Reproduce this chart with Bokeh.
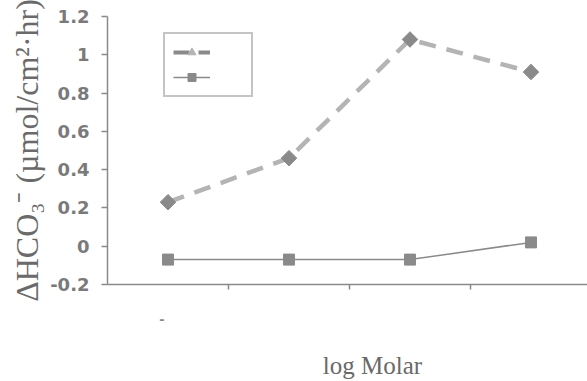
import math
from bokeh.plotting import figure
from bokeh.models import (Range1d, FixedTicker, LinearAxis, Legend, LegendItem,
                          ColumnDataSource)
from bokeh.embed import file_html
from bokeh.resources import INLINE

# ---- data ----
categories = ["-", "", "", ""]
series_a = [0.23, 0.46, 1.08, 0.91]      # dashed, diamonds
series_b = [-0.07, -0.07, -0.07, 0.02]   # solid, squares
y_ticks = [-0.2, 0, 0.2, 0.4, 0.6, 0.8, 1.0, 1.2]
y_tick_labels = ["-0.2", "0", "0.2", "0.4", "0.6", "0.8", "1", "1.2"]
x_label = "log Molar"
y_label = "ΔHCO₃⁻ (µmol/cm²·hr)"

# category centres on a numeric axis (boundaries at integers)
x_pos = [i + 0.5 for i in range(len(categories))]
x_bounds = [1, 2, 3]
cat_ticks = [x - 0.05 for x in x_pos[:1]]
x_label_at = 2.19   # horizontal anchor of the x title (axis units)

GRAY = "#8a8a8a"
LIGHT = "#b4b4b4"
TXT = "#6a6a6a"

p = figure(width=587, height=381, output_backend="svg", toolbar_location=None,
           x_range=Range1d(0, 3.967), y_range=Range1d(-0.2, 1.2),
           min_border_left=107, min_border_right=0, min_border_top=16,
           min_border_bottom=97)
p.outline_line_color = None
p.grid.visible = False
p.background_fill_color = "white"
p.border_fill_color = "white"

# axes
p.xaxis.ticker = FixedTicker(ticks=x_bounds)
p.xaxis.major_label_overrides = {b: "" for b in x_bounds}
p.xaxis.major_label_text_font_size = "0px"
p.xaxis.major_label_standoff = 0
p.xaxis.major_tick_in = 0
p.xaxis.major_tick_out = 5
p.xaxis.minor_tick_line_color = None
p.yaxis.ticker = FixedTicker(ticks=y_ticks)
p.yaxis.major_label_overrides = {t: l for t, l in zip(y_ticks, y_tick_labels)}
p.yaxis.major_tick_in = 0
p.yaxis.major_tick_out = 6
p.yaxis.minor_tick_line_color = None
p.yaxis.major_label_standoff = 12
for ax in (p.xaxis, p.yaxis):
    ax.axis_line_color = GRAY
    ax.axis_line_width = 1.5
    ax.major_tick_line_color = GRAY
    ax.major_tick_line_width = 1.5
p.yaxis.major_label_text_font = "DejaVu Sans"
p.yaxis.major_label_text_font_style = "bold"
p.yaxis.major_label_text_font_size = "18px"
p.yaxis.major_label_text_color = "#7a7a7a"
p.yaxis.axis_label = y_label
p.yaxis.axis_label_standoff = 2
p.yaxis.axis_label_text_font = "Liberation Serif"
p.yaxis.axis_label_text_font_style = "normal"
p.yaxis.axis_label_text_font_size = "32px"
p.yaxis.axis_label_text_color = TXT

def label_axis(ticks, labels, standoff, font, size, style):
    return LinearAxis(ticker=FixedTicker(ticks=ticks),
                      major_label_overrides=dict(zip(ticks, labels)),
                      axis_line_color=None, major_tick_line_color=None,
                      minor_tick_line_color=None, major_tick_out=0,
                      major_tick_in=0, major_label_standoff=standoff,
                      major_label_text_font=font,
                      major_label_text_font_style=style,
                      major_label_text_font_size=size,
                      major_label_text_color=TXT if font.endswith("Serif") else GRAY)

# category label (only the first category carries one) and x title
p.add_layout(label_axis(cat_ticks, categories[:1], 25, "DejaVu Sans", "13px",
                        "bold"), "below")
p.add_layout(label_axis([x_label_at], [x_label], 25, "Liberation Serif",
                        "25px", "normal"), "below")

# series
src_a = ColumnDataSource(dict(x=x_pos, y=series_a))
src_b = ColumnDataSource(dict(x=x_pos, y=series_b))
p.line("x", "y", source=src_a, line_color=LIGHT, line_width=4.5,
       line_dash="17 11")
p.scatter("x", "y", source=src_a, marker="square", size=11, angle=math.pi / 4,
          fill_color=GRAY, line_color=GRAY)
p.line("x", "y", source=src_b, line_color=GRAY, line_width=1.5)
p.scatter("x", "y", source=src_b, marker="square", size=11,
          fill_color=GRAY, line_color=GRAY)

# legend proxies (not drawn in the frame)
nan = float("nan")
proxy = ColumnDataSource(dict(x=[nan], y=[nan]))
la = p.line("x", "y", source=proxy, line_color=GRAY, line_width=4,
            line_dash="16 9")
ma = p.scatter("x", "y", source=proxy, marker="triangle", size=14,
               fill_color=LIGHT, line_color=LIGHT)
lb = p.line("x", "y", source=proxy, line_color=GRAY, line_width=1.5)
mb = p.scatter("x", "y", source=proxy, marker="square", size=14,
               fill_color=GRAY, line_color=GRAY)
legend = Legend(items=[LegendItem(label=" ", renderers=[la, ma]),
                       LegendItem(label=" ", renderers=[lb, mb])],
                location=(56, 187), glyph_width=37, glyph_height=20,
                label_standoff=0, label_width=33, padding=8, spacing=5,
                margin=0, border_line_color=GRAY, border_line_width=2,
                label_text_font_size="10px")
p.add_layout(legend, "center")

open("out.html", "w").write(file_html(p, INLINE))
